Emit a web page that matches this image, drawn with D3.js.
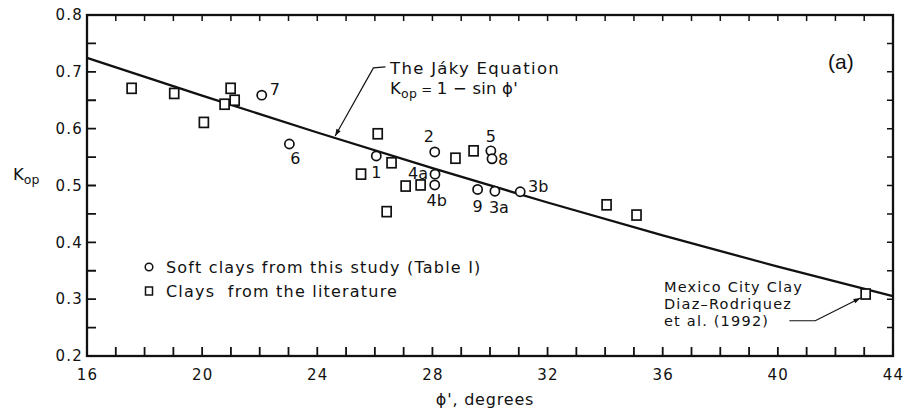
<!DOCTYPE html>
<html>
<head>
<meta charset="utf-8">
<script src="https://cdn.jsdelivr.net/npm/d3@7"></script>
<style>
  html, body { margin: 0; padding: 0; background: #fff; }
  svg { display: block; }
  .tick text { font-family: "DejaVu Sans", sans-serif; font-size: 15px; letter-spacing: 1.2px; fill: #111; }
  .lettering { font-family: "DejaVu Sans", sans-serif; fill: #111; }
</style>
</head>
<body>
<svg id="chart" width="904" height="413"></svg>
<script>
// Axis ticks
const phiTicks = [16, 20, 24, 28, 32, 36, 40, 44];
const kTicks = [0.2, 0.3, 0.4, 0.5, 0.6, 0.7, 0.8];

// Jaky equation, Kop = 1 - sin(phi'), tabulated
const jakyPhi = [16, 20, 24, 28, 32, 36, 40, 44];
const jakyK = [0.7244, 0.6580, 0.5933, 0.5305, 0.4701, 0.4122, 0.3572, 0.3053];

// Soft clays from this study (Table I)
const studyLabels = ["1", "2", "3a", "3b", "4a", "4b", "5", "6", "7", "8", "9"];
const studyPhi = [26.05, 28.08, 30.17, 31.05, 28.09, 28.08, 30.03, 23.03, 22.07, 30.07, 29.57];
const studyK = [0.552, 0.559, 0.490, 0.489, 0.520, 0.501, 0.561, 0.573, 0.659, 0.547, 0.493];

// Clays from the literature
const litPhi = [17.55, 19.03, 20.06, 20.78, 20.99, 21.13, 25.52, 26.10, 26.41, 26.58, 27.07, 27.59, 28.80, 29.43, 34.05, 35.09, 43.05];
const litK = [0.671, 0.662, 0.611, 0.643, 0.671, 0.650, 0.520, 0.591, 0.454, 0.540, 0.499, 0.501, 0.548, 0.561, 0.466, 0.448, 0.309];

// label placement around each study point (pixels, label centre relative to marker)
const studyLabelOffsets = [[0, 17], [-6, -15], [4, 16], [18, -5], [-17, -1], [2, 16], [0, -14], [6, 14], [13, -6], [11, 1], [0, 17]];

const svg = d3.select("#chart");
const plotLeft = 87, plotRight = 893, plotTop = 15, plotBottom = 356;

const x = d3.scaleLinear().domain([16, 44]).range([plotLeft, plotRight]);
const y = d3.scaleLinear().domain([0.2, 0.8]).range([plotBottom, plotTop]);

const minorPhi = d3.range(16, 44.5, 1);
const minorK = d3.range(0, 13).map(i => +(0.2 + i * 0.05).toFixed(2));

// frame
svg.append("rect").attr("x", plotLeft).attr("y", plotTop).attr("width", plotRight - plotLeft).attr("height", plotBottom - plotTop)
  .attr("fill", "none").attr("stroke", "#111").attr("stroke-width", 2.3);

// inward tick marks on all four sides, one path per side
const tickPath = (values, fn) => values.map(fn).join(" ");
svg.append("path").attr("fill", "none").attr("stroke", "#111").attr("stroke-width", 1.8)
  .attr("d", tickPath(minorPhi, d => `M${x(d).toFixed(2)},${plotBottom} V${plotBottom - 9}`));
svg.append("path").attr("fill", "none").attr("stroke", "#111").attr("stroke-width", 1.5)
  .attr("d", tickPath(minorPhi, d => `M${x(d).toFixed(2)},${plotTop} V${plotTop + 6}`));
svg.append("path").attr("fill", "none").attr("stroke", "#111").attr("stroke-width", 1.8)
  .attr("d", tickPath(minorK, d => `M${plotLeft},${y(d).toFixed(2)} H${plotLeft + 9}`));
svg.append("path").attr("fill", "none").attr("stroke", "#111").attr("stroke-width", 1.5)
  .attr("d", tickPath(minorK, d => `M${plotRight},${y(d).toFixed(2)} H${plotRight - 6}`));

// tick labels
svg.append("g").attr("transform", `translate(0,${plotBottom})`)
  .call(d3.axisBottom(x).tickValues(phiTicks).tickSize(0).tickPadding(13).tickFormat(d3.format("d")))
  .call(g => g.select(".domain").remove());
svg.append("g").attr("transform", `translate(${plotLeft - 4},0)`)
  .call(d3.axisLeft(y).tickValues(kTicks).tickSize(0).tickPadding(0).tickFormat(d3.format(".1f")))
  .call(g => g.select(".domain").remove());

// Jaky line
const line = d3.line().x((d, i) => x(jakyPhi[i])).y(d => y(d)).curve(d3.curveMonotoneX);
svg.append("path").datum(jakyK).attr("d", line)
  .attr("fill", "none").attr("stroke", "#111").attr("stroke-width", 2.3);

// literature squares
const sq = 9;
svg.append("g").selectAll("rect").data(litK).join("rect")
  .attr("x", (d, i) => x(litPhi[i]) - sq / 2)
  .attr("y", d => y(d) - sq / 2 - 0.5)
  .attr("width", sq).attr("height", sq + 1)
  .attr("fill", "#fff").attr("stroke", "#111").attr("stroke-width", 1.7);

// study circles and labels
const gStudy = svg.append("g");
gStudy.selectAll("circle").data(studyK).join("circle")
  .attr("cx", (d, i) => x(studyPhi[i])).attr("cy", d => y(d)).attr("r", 4.6)
  .attr("fill", "#fff").attr("stroke", "#111").attr("stroke-width", 1.7);
gStudy.selectAll("text").data(studyLabels).join("text")
  .attr("class", "lettering")
  .attr("x", (d, i) => x(studyPhi[i]) + studyLabelOffsets[i][0])
  .attr("y", (d, i) => y(studyK[i]) + studyLabelOffsets[i][1])
  .attr("text-anchor", "middle").attr("dominant-baseline", "central")
  .attr("font-size", 16).text(d => d);

// arrowhead
svg.append("defs").append("marker").attr("id", "arrow")
  .attr("viewBox", "0 0 10 10").attr("refX", 10).attr("refY", 5)
  .attr("markerWidth", 9).attr("markerHeight", 7).attr("markerUnits", "userSpaceOnUse")
  .attr("orient", "auto")
  .append("path").attr("d", "M0,1.5 L10,5 L0,8.5 Z").attr("fill", "#111");

// Jaky annotation
const jakyTip = [24.62, 0.587], jakyElbow = [25.95, 0.707];
svg.append("path")
  .attr("d", `M${x(jakyElbow[0]) + 12},${y(jakyElbow[1]) - 1} L${x(jakyElbow[0])},${y(jakyElbow[1])} L${x(jakyTip[0])},${y(jakyTip[1])}`)
  .attr("fill", "none").attr("stroke", "#111").attr("stroke-width", 1.2).attr("marker-end", "url(#arrow)");
svg.append("text").attr("class", "lettering").attr("font-size", 16.5).attr("letter-spacing", 1.3)
  .attr("x", 390).attr("y", 74).text("The Jáky Equation");
const l2 = svg.append("text").attr("class", "lettering").attr("font-size", 16.5).attr("letter-spacing", 0.2)
  .attr("x", 390).attr("y", 94);
l2.append("tspan").text("K");
l2.append("tspan").attr("font-size", 12.5).attr("dy", 4).text("op");
l2.append("tspan").attr("dy", -4).attr("font-size", 13).text(" = ");
l2.append("tspan").text("1 − sin ϕ'");

// Mexico City Clay annotation
const mexTip = [42.87, 0.302], mexElbow = [41.3, 0.262], mexStart = [40.4, 0.262];
svg.append("path")
  .attr("d", `M${x(mexStart[0])},${y(mexStart[1])} L${x(mexElbow[0])},${y(mexElbow[1])} L${x(mexTip[0])},${y(mexTip[1])}`)
  .attr("fill", "none").attr("stroke", "#111").attr("stroke-width", 1.2).attr("marker-end", "url(#arrow)");
const mexText = svg.append("text").attr("class", "lettering").attr("font-size", 14.5).attr("letter-spacing", 1.2);
["Mexico City Clay", "Diaz–Rodriquez", "et al. (1992)"].forEach((t, i) =>
  mexText.append("tspan").attr("x", 664).attr("y", 291.5 + i * 17.3).text(t));

// panel tag
svg.append("text").attr("x", 828).attr("y", 69).attr("font-family", "Liberation Sans, Arial, sans-serif")
  .attr("font-size", 21).attr("fill", "#111").text("(a)");

// legend
const lg = svg.append("g");
lg.append("circle").attr("cx", 149).attr("cy", 267).attr("r", 3.8)
  .attr("fill", "#fff").attr("stroke", "#111").attr("stroke-width", 1.5);
lg.append("rect").attr("x", 145.5).attr("y", 287).attr("width", 7).attr("height", 8)
  .attr("fill", "#fff").attr("stroke", "#111").attr("stroke-width", 1.5);
lg.append("text").attr("class", "lettering").attr("font-size", 16).attr("letter-spacing", 1.2)
  .attr("x", 166).attr("y", 272.5).text("Soft clays from this study (Table I)");
lg.append("text").attr("class", "lettering").attr("font-size", 16).attr("letter-spacing", 1.2)
  .attr("x", 166).attr("y", 297).attr("xml:space", "preserve").text("Clays  from the literature");

// axis titles
const yt = svg.append("text").attr("class", "lettering").attr("font-size", 16.5).attr("x", 13).attr("y", 180);
yt.append("tspan").text("K");
yt.append("tspan").attr("font-size", 12.5).attr("dy", 4).text("op");

svg.append("text").attr("class", "lettering").attr("font-size", 16).attr("letter-spacing", 0.8)
  .attr("x", 485).attr("y", 405).attr("text-anchor", "middle").text("ϕ', degrees");
</script>
</body>
</html>
